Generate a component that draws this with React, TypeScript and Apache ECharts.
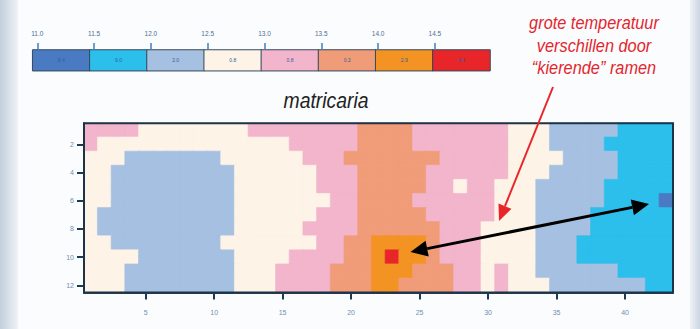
import React, { useEffect, useRef } from "react";
import * as echarts from "echarts";

// ---- data -------------------------------------------------------------
// Column positions along the greenhouse (1..43) and rows (1..12)
const columns: string[] = [
  "1","2","3","4","5","6","7","8","9","10","11","12","13","14","15","16","17","18","19","20","21","22",
  "23","24","25","26","27","28","29","30","31","32","33","34","35","36","37","38","39","40","41","42","43",
];
const rows: string[] = ["1","2","3","4","5","6","7","8","9","10","11","12"];

// temperature class per cell (0 = 11.0-11.5 ... 7 = 14.5-15.0), one string per row
const rowCodes: string[] = [
  "4444333333334444444455554444444333222221111",
  "4333333333333334444455554444444333222211111",
  "3332222222333333444555555544444333322221111",
  "3322222222233333344455555444444333222221111",
  "3322222222233333344455555443443332222211111",
  "3322222222233333334455554444443332222211110",
  "3222222222233333344455555444443332222111111",
  "3222222222233333444455555544433332222111111",
  "3322222222333333344556666544433332221111111",
  "3333222222233334444556766544433332221111111",
  "3332222222233344445556665554434332222221111",
  "3332222222233344445556655554434333222222211",
];

// colour scale
const legendTicks: string[] = ["11.0", "11.5", "12.0", "12.5", "13.0", "13.5", "14.0", "14.5"];
const classMidTemps: number[] = [11.25, 11.75, 12.25, 12.75, 13.25, 13.75, 14.25, 14.75];
const classColors: string[] = [
  "#4a7bc2", "#2cbfec", "#a6c0e2", "#fdf3e7", "#f2b5cb", "#f19c79", "#f39323", "#e8262a",
];
const legendBoxLabels: string[] = ["8.4", "9.0", "2.0", "0.8", "0.8", "0.3", "2.9", "0.4"];

const titleText = "matricaria";
const noteLines: string[] = ["grote temperatuur", "verschillen door", "\u201Ckierende\u201D ramen"];

// ---- helpers ---------------------------------------------------------
function arrowHead(tip: number[], from: number[], len: number, hw: number) {
  const dx = tip[0] - from[0];
  const dy = tip[1] - from[1];
  const d = Math.sqrt(dx * dx + dy * dy);
  const ux = dx / d, uy = dy / d;
  const bx = tip[0] - ux * len, by = tip[1] - uy * len;
  const nx = -uy, ny = ux;
  return {
    base: [bx, by],
    points: [tip, [bx + nx * hw, by + ny * hw], [bx - nx * hw, by - ny * hw]],
  };
}

export default function App() {
  const ref = useRef<HTMLDivElement>(null);

  useEffect(() => {
    if (!ref.current) return;
    const chart = echarts.init(ref.current, undefined, { renderer: "svg" });

    const cells: any[] = [];
    rowCodes.forEach((code, r) => {
      for (let c = 0; c < code.length; c++) {
        const k = Number(code[c]);
        cells.push({
          value: [c, r, classMidTemps[k]],
          itemStyle: { borderColor: classColors[k], borderWidth: 0.6 },
        });
      }
    });
    const legendCells = classMidTemps.map((t, i) => [i, 0, t]);

    const pieces = classColors.map((color, i) => ({
      gte: parseFloat(legendTicks[i]),
      lt: parseFloat(legendTicks[i]) + 0.5,
      color,
    }));

    const axisDark = "#1d3a55";
    const labelBlue = "#6f8fb3";

    // annotation arrows
    const redFrom = [553, 87];
    const redTip = [499, 221];
    const redHead = arrowHead(redTip, redFrom, 16, 7);
    const blkL = [410.5, 252];
    const blkR = [649, 204];
    const headR = arrowHead(blkR, blkL, 17, 8);
    const headL = arrowHead(blkL, blkR, 17, 8);

    chart.setOption({
      animation: false,
      backgroundColor: "#fbfcfd",
      visualMap: {
        type: "piecewise",
        show: false,
        seriesIndex: [0, 1],
        dimension: 2,
        pieces,
      },
      grid: [
        { left: 84, top: 123.2, width: 589, height: 169.2 },
        { left: 32.7, top: 50, width: 457.3, height: 20.7 },
        { left: 37.3, top: 50, width: 397.6, height: 20.7 },
      ],
      xAxis: [
        {
          type: "category",
          gridIndex: 0,
          data: columns,
          position: "bottom",
          axisLine: { show: true, lineStyle: { color: axisDark, width: 2 } },
          axisTick: {
            show: true,
            alignWithLabel: true,
            interval: (i: number) => (i + 1) % 5 === 0,
            length: 7,
            lineStyle: { color: axisDark, width: 2 },
          },
          axisLabel: {
            interval: (i: number) => (i + 1) % 5 === 0,
            fontSize: 7,
            color: labelBlue,
            margin: 17,
            fontFamily: "Liberation Sans",
          },
          splitLine: { show: false },
        },
        {
          type: "category",
          gridIndex: 1,
          data: ["0", "1", "2", "3", "4", "5", "6", "7"],
          show: false,
        },
        {
          type: "category",
          gridIndex: 2,
          data: legendTicks,
          boundaryGap: false,
          position: "top",
          z: 10,
          axisLine: { show: false, onZero: false },
          axisTick: {
            show: true,
            interval: 0,
            length: 7,
            lineStyle: { color: "#3f7fc0", width: 1.5 },
          },
          axisLabel: {
            interval: 0,
            fontSize: 6.5,
            color: "#4b6f96",
            margin: 13,
            fontFamily: "Liberation Sans",
          },
          splitLine: { show: false },
        },
      ],
      yAxis: [
        {
          type: "category",
          gridIndex: 0,
          data: rows,
          inverse: true,
          axisLine: { show: true, lineStyle: { color: axisDark, width: 2 } },
          axisTick: {
            show: true,
            alignWithLabel: true,
            interval: (i: number) => (i + 1) % 2 === 0,
            length: 7,
            lineStyle: { color: axisDark, width: 2 },
          },
          axisLabel: {
            interval: (i: number) => (i + 1) % 2 === 0,
            fontSize: 7,
            color: labelBlue,
            margin: 10,
            fontFamily: "Liberation Sans",
          },
          splitLine: { show: false },
        },
        { type: "category", gridIndex: 1, data: ["0"], show: false },
        { type: "category", gridIndex: 2, data: ["0"], show: false },
      ],
      series: [
        {
          type: "heatmap",
          xAxisIndex: 0,
          yAxisIndex: 0,
          data: cells,
          emphasis: { disabled: true },
        },
        {
          type: "heatmap",
          xAxisIndex: 1,
          yAxisIndex: 1,
          data: legendCells,
          itemStyle: { borderColor: "#34495a", borderWidth: 1 },
          label: {
            show: true,
            formatter: (p: any) => legendBoxLabels[p.data[0]],
            fontSize: 5,
            color: "#2d5fa0",
            fontFamily: "Liberation Sans",
          },
          emphasis: { disabled: true },
        },
      ],
      graphic: [
        {
          type: "rect",
          z: -10,
          shape: { x: 0, y: 0, width: 18, height: 329 },
          style: {
            fill: new echarts.graphic.LinearGradient(0, 0, 1, 0, [
              { offset: 0, color: "#c3cfdc" },
              { offset: 1, color: "#eef2f7" },
            ]),
          },
        },
        {
          type: "rect",
          z: -10,
          shape: { x: 690, y: 0, width: 10, height: 329 },
          style: {
            fill: new echarts.graphic.LinearGradient(0, 0, 1, 0, [
              { offset: 0, color: "#eef2f6" },
              { offset: 1, color: "#ccd6e1" },
            ]),
          },
        },
        {
          type: "rect",
          z: 100,
          shape: { x: 84, y: 123.2, width: 589, height: 169.2 },
          style: { fill: "none", stroke: "#1d3347", lineWidth: 2 },
        },
        {
          type: "text",
          x: 326,
          y: 100,
          scaleX: 0.88,
          style: {
            text: titleText,
            font: "italic 22px 'Liberation Sans'",
            fill: "#222222",
            textAlign: "center",
            textVerticalAlign: "middle",
          },
        },
        ...noteLines.map((t, i) => ({
          type: "text",
          x: 594,
          y: 23 + i * 22.5,
          scaleX: 0.86,
          z: 110,
          style: {
            text: t,
            font: "italic 19px 'Liberation Sans'",
            fill: "#e3262e",
            textAlign: "center",
            textVerticalAlign: "middle",
          },
        })),
        {
          type: "line",
          z: 120,
          shape: { x1: redFrom[0], y1: redFrom[1], x2: redHead.base[0], y2: redHead.base[1] },
          style: { stroke: "#e8262a", lineWidth: 2 },
        },
        {
          type: "polygon",
          z: 120,
          shape: { points: redHead.points },
          style: { fill: "#e8262a" },
        },
        {
          type: "line",
          z: 120,
          shape: { x1: headL.base[0], y1: headL.base[1], x2: headR.base[0], y2: headR.base[1] },
          style: { stroke: "#000000", lineWidth: 3 },
        },
        {
          type: "polygon",
          z: 120,
          shape: { points: headR.points },
          style: { fill: "#000000" },
        },
        {
          type: "polygon",
          z: 120,
          shape: { points: headL.points },
          style: { fill: "#000000" },
        },
      ],
    });

    return () => {
      chart.dispose();
    };
  }, []);

  return (
    <div
      ref={ref}
      style={{ position: "fixed", left: 0, top: 0, width: 700, height: 329 }}
    />
  );
}
